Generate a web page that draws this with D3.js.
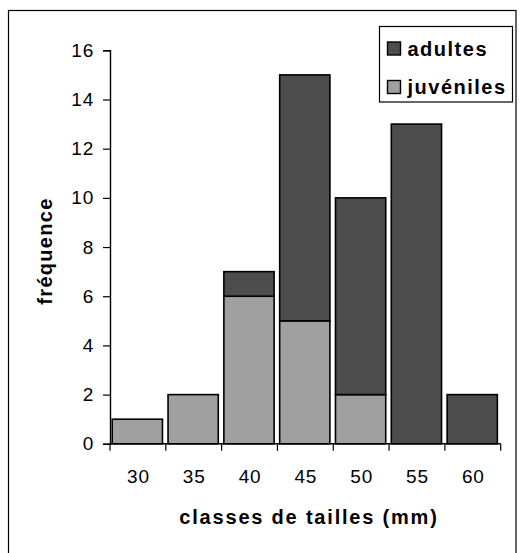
<!DOCTYPE html>
<html>
<head>
<meta charset="utf-8">
<script src="https://cdn.jsdelivr.net/npm/d3@7"></script>
<style>
  body { margin: 0; background: #fff; }
  text { font-family: "Liberation Sans", Arial, sans-serif; }
</style>
</head>
<body>
<div id="chart"></div>
<script>
// data
const classes = ["30", "35", "40", "45", "50", "55", "60"];
const juveniles = [1, 2, 6, 5, 2, 0, 0];
const adultes = [0, 0, 1, 10, 8, 13, 2];
const yTicks = [0, 2, 4, 6, 8, 10, 12, 14, 16];
const seriesNames = ["juveniles", "adultes"];
const seriesLabels = {adultes: "adultes", juveniles: "juvéniles"};
const colors = {adultes: "#4d4d4d", juveniles: "#a0a0a0"};

let dimensions = {
    width: 524,
    height: 553,
    margin: {top: 50.3, right: 23.3, bottom: 109.2, left: 110},
}
dimensions.boundedWidth = dimensions.width - dimensions.margin.left - dimensions.margin.right;
dimensions.boundedHeight = dimensions.height - dimensions.margin.top - dimensions.margin.bottom;

const svg = d3.select("#chart").append("svg")
    .attr("width", dimensions.width)
    .attr("height", dimensions.height);

// outer frame (runs off the bottom of the picture)
svg.append("rect")
    .attr("x", 8.5).attr("y", 10.5)
    .attr("width", 507.5).attr("height", 560)
    .attr("fill", "none").attr("stroke", "#000").attr("stroke-width", 1.2);

const bounds = svg.append("g")
    .attr("transform", `translate(${dimensions.margin.left},${dimensions.margin.top})`);

const table = classes.map((c, i) => ({classe: c, juveniles: juveniles[i], adultes: adultes[i]}));
const stacked = d3.stack().keys(seriesNames)(table);

const x = d3.scaleBand()
    .domain(classes)
    .range([0, dimensions.boundedWidth])
    .paddingInner(0.1)
    .paddingOuter(0.05)
    .align(0.4);

const y = d3.scaleLinear()
    .domain([0, 16])
    .range([dimensions.boundedHeight, 0]);

// bars
bounds.selectAll("g.serie")
    .data(stacked)
    .enter().append("g")
    .attr("class", "serie")
    .attr("fill", d => colors[d.key])
    .selectAll("rect")
    .data(d => d.filter(s => s[1] > s[0]))
    .enter().append("rect")
    .attr("x", d => x(d.data.classe))
    .attr("y", d => y(d[1]))
    .attr("width", x.bandwidth())
    .attr("height", d => y(d[0]) - y(d[1]))
    .attr("stroke", "#000")
    .attr("stroke-width", 1.6);

// y axis
const yAxis = bounds.append("g")
    .call(d3.axisLeft(y).tickValues(yTicks).tickSize(7).tickPadding(9));
yAxis.select(".domain").attr("stroke-width", 1.4);
yAxis.selectAll(".tick line").attr("stroke-width", 1.2);
yAxis.selectAll("text")
    .style("font-size", "19px")
    .style("letter-spacing", "0.8px")
    .attr("fill", "#000");

// x axis: ticks on class boundaries, labels centred in the bands
const xAxis = bounds.append("g")
    .attr("transform", `translate(0,${dimensions.boundedHeight})`);
xAxis.append("line")
    .attr("x1", 0).attr("x2", dimensions.boundedWidth)
    .attr("stroke", "#000").attr("stroke-width", 1.6);
const step = dimensions.boundedWidth / classes.length;
xAxis.selectAll("line.tick")
    .data(d3.range(classes.length + 1))
    .enter().append("line")
    .attr("class", "tick")
    .attr("x1", i => i * step)
    .attr("x2", i => i * step)
    .attr("y1", 0).attr("y2", 7)
    .attr("stroke", "#000").attr("stroke-width", 1.2);
xAxis.selectAll("text.label")
    .data(classes)
    .enter().append("text")
    .attr("class", "label")
    .attr("x", (d, i) => i * step + step / 2 + 0.5)
    .attr("y", 39.5)
    .attr("text-anchor", "middle")
    .style("font-size", "19px")
    .style("letter-spacing", "0.8px")
    .text(d => d);

// axis titles
svg.append("text")
    .attr("transform", "translate(52,251) rotate(-90)")
    .attr("text-anchor", "middle")
    .style("font-size", "20px")
    .style("font-weight", "bold")
    .style("letter-spacing", "1.3px")
    .text("fréquence");

svg.append("text")
    .attr("x", 309)
    .attr("y", 524)
    .attr("text-anchor", "middle")
    .style("font-size", "20px")
    .style("font-weight", "bold")
    .style("letter-spacing", "1.8px")
    .text("classes de tailles (mm)");

// legend
const legend = svg.append("g").attr("transform", "translate(379.5,26.5)");
legend.append("rect")
    .attr("width", 133).attr("height", 75.5)
    .attr("fill", "#fff").attr("stroke", "#000").attr("stroke-width", 1.2);
const items = legend.selectAll("g.item")
    .data(["adultes", "juveniles"])
    .enter().append("g")
    .attr("class", "item")
    .attr("transform", (d, i) => `translate(8,${22 + i * 38.5})`);
items.append("rect")
    .attr("x", 0).attr("y", -6.5)
    .attr("width", 13).attr("height", 13)
    .attr("fill", d => colors[d])
    .attr("stroke", "#000").attr("stroke-width", 1.4);
items.append("text")
    .attr("x", 20).attr("y", 7)
    .style("font-size", "20px")
    .style("font-weight", "bold")
    .style("letter-spacing", "1.5px")
    .text(d => seriesLabels[d]);
</script>
</body>
</html>
